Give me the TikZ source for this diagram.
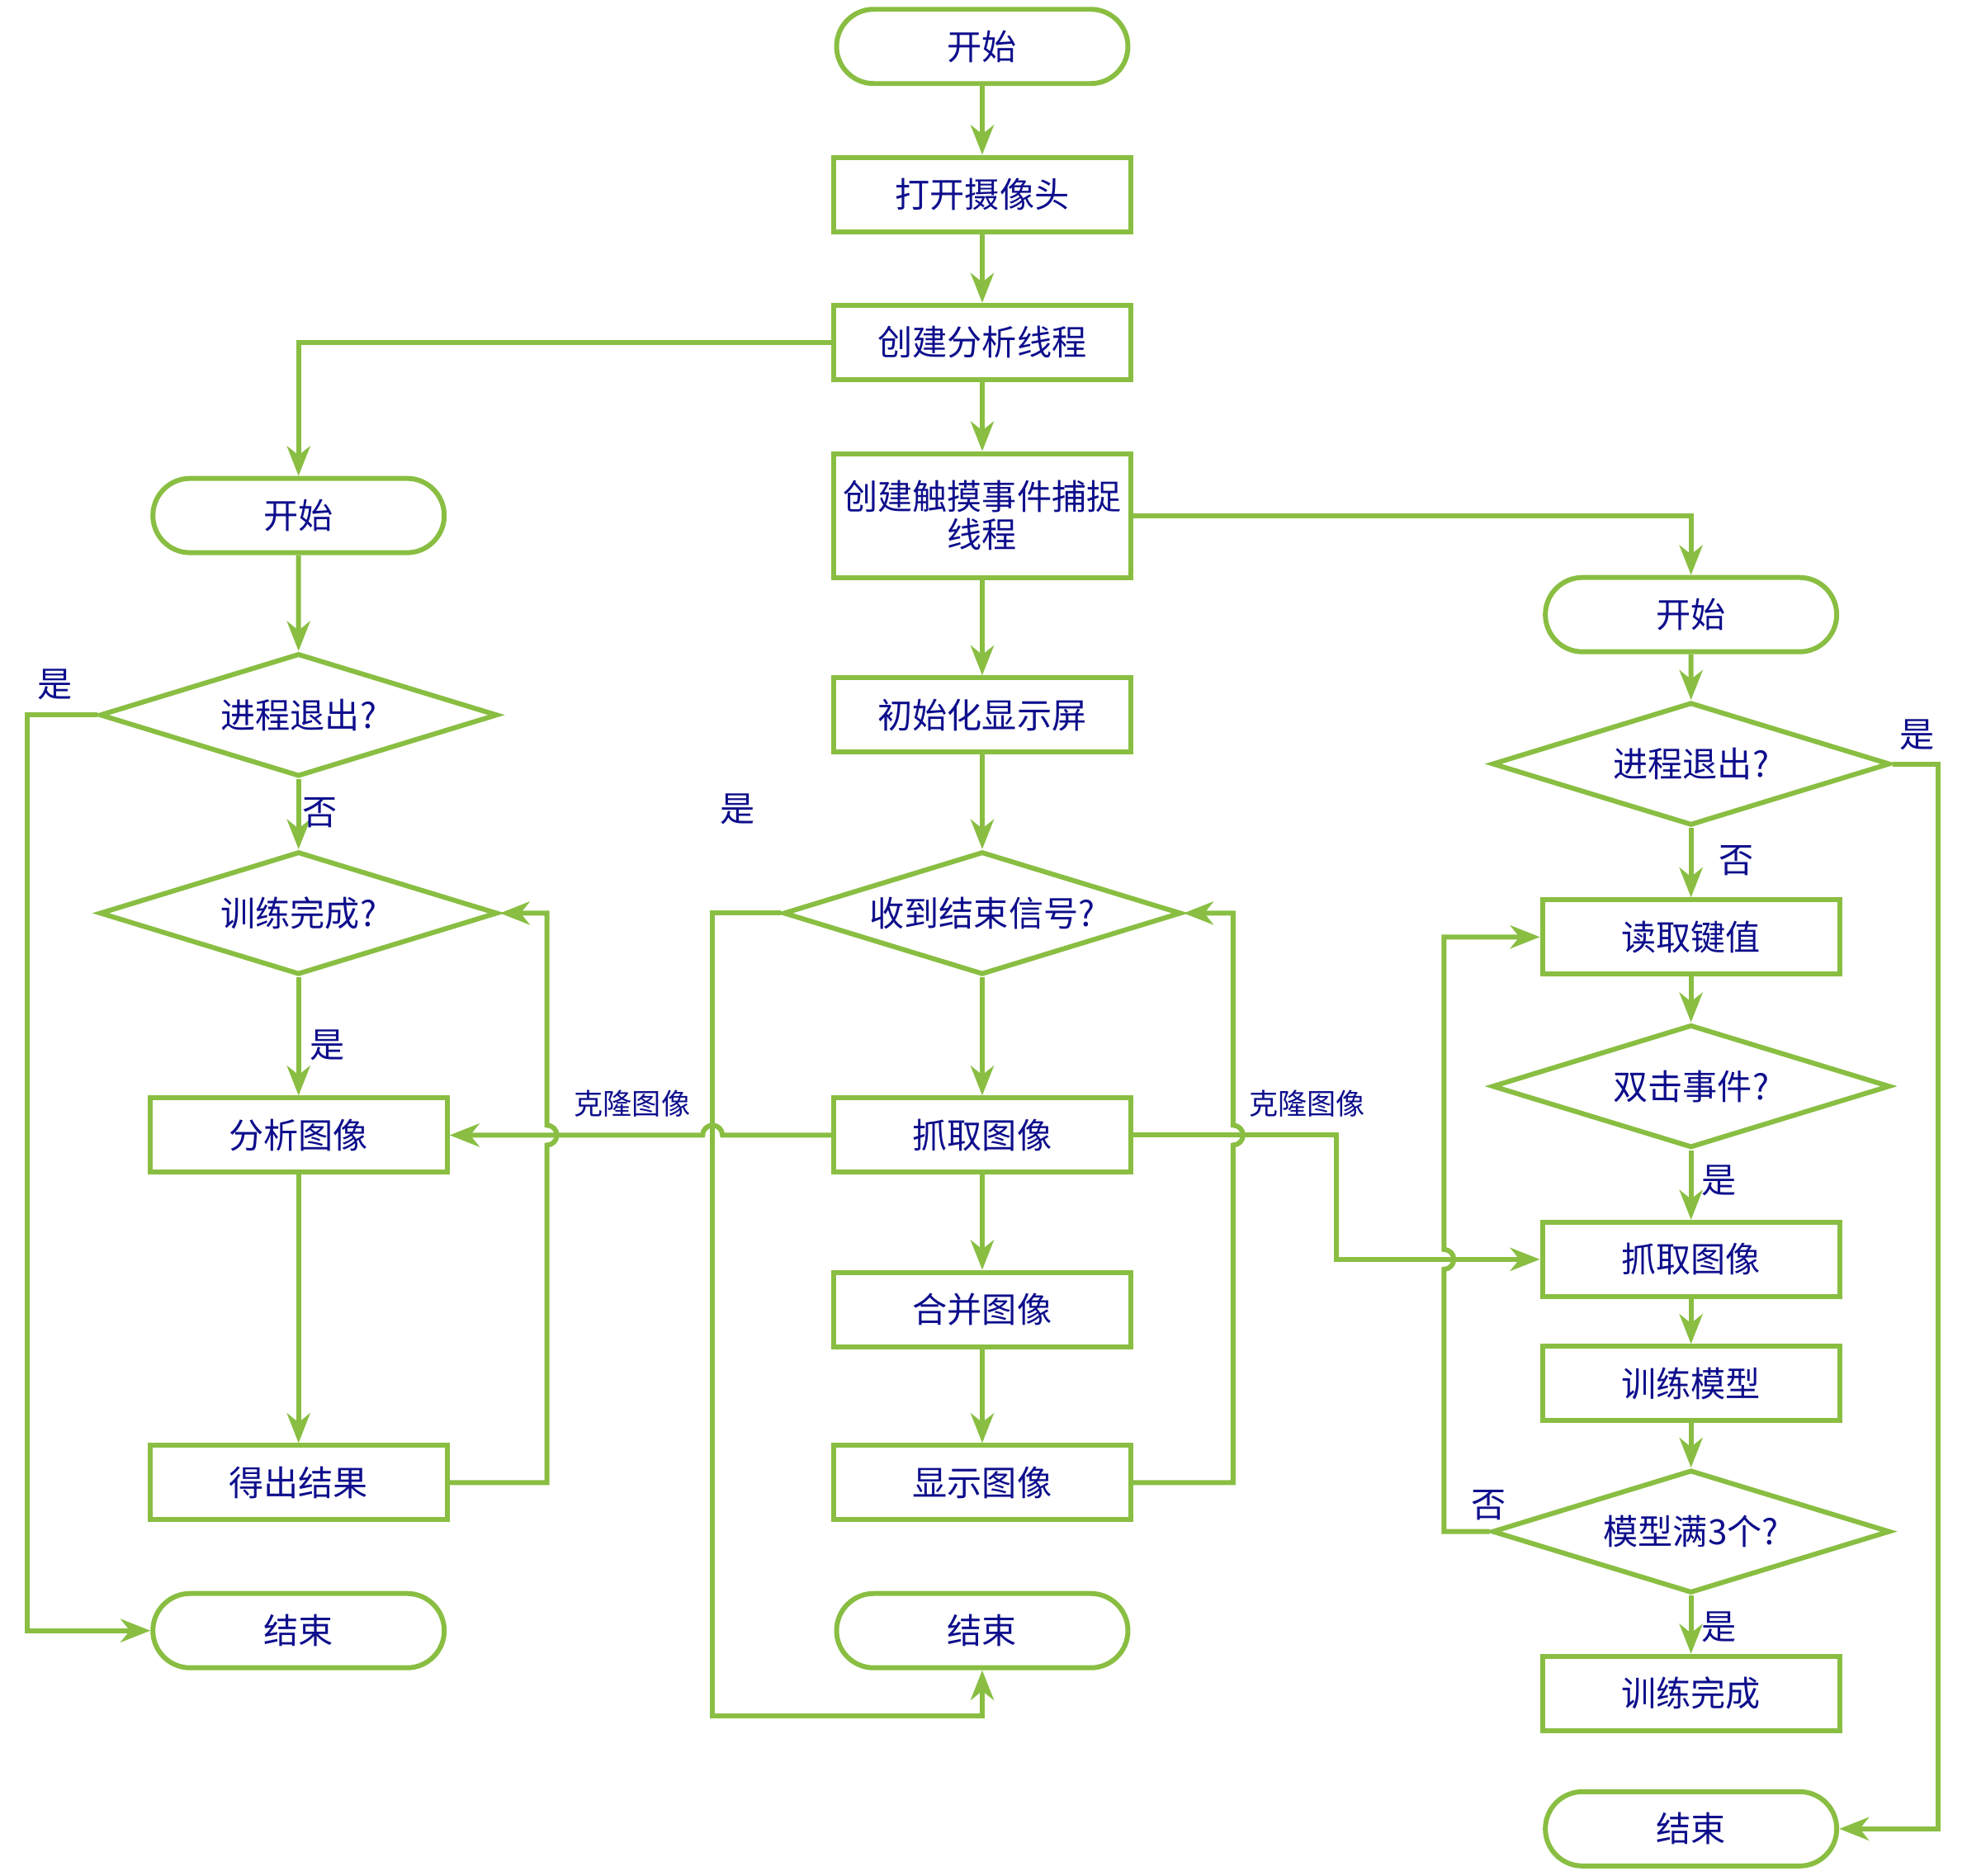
\documentclass[tikz,border=0pt]{standalone}
\usepackage{fontspec}
\setmainfont{Noto Sans CJK SC}
\usetikzlibrary{shapes.geometric}
\usetikzlibrary{shapes.misc}
\usetikzlibrary{arrows.meta}
\definecolor[named]{FlowGreen}{RGB}{137,190,66}
\definecolor[named]{FlowInk}{RGB}{14,14,140}
\newcommand{\nodefont}{\fontsize{12}{13}\selectfont}
\newcommand{\jr}{1.2mm}
\tikzset{
  box/.style={draw=FlowGreen,line width=1.7pt,text=FlowInk,font=\nodefont,
    minimum width=3.6cm,minimum height=0.9cm,inner sep=1pt,align=center},
  term/.style={box,rounded rectangle},
  proc/.style={box,rectangle},
  decide/.style={box,diamond,aspect=3.23,minimum width=4.82cm,minimum height=1.49cm,inner sep=0pt},
  flow/.style={draw=FlowGreen,line width=1.7pt,
    -{Stealth[length=3.6mm,width=2.8mm,inset=1.1mm]}},
  lbl/.style={text=FlowInk,font=\nodefont,inner sep=0pt},
  clonelbl/.style={text=FlowInk,font=\fontsize{10}{12}\selectfont,inner sep=0pt}
}

\begin{document}
\begin{tikzpicture}[x=0.0152cm,y=-0.0152cm]
    \useasboundingbox (0,0) rectangle (1568,1495);

    % Coordinates
    \path (568,905) coordinate (jumpM)
      (436,905) coordinate (jumpL)
      (983,905) coordinate (jumpR)
      (1151,1004) coordinate (jumpK)
      (568,1368) coordinate (mdown)
      (1065,1004) coordinate (cbend)
      (22,900) coordinate (lside)
      (1545,1000) coordinate (rside)
      ;

    % Main thread
    \node[term] (start) at (783,37) {开始};
    \node[proc] (cam) at (783,155) {打开摄像头};
    \node[proc] (mkana) at (783,273) {创建分析线程};
    \node[proc,minimum height=1.5cm] (mktouch) at (783,411) {创建触摸事件捕捉\\线程};
    \node[proc] (initdisp) at (783,570) {初始化显示屏};
    \node[decide] (recv) at (783,728) {收到结束信号?};
    \node[proc] (grab) at (783,905) {抓取图像};
    \node[proc] (merge) at (783,1044) {合并图像};
    \node[proc] (show) at (783,1182) {显示图像};
    \node[term] (stop) at (783,1300) {结束};

    % Analysis thread
    \node[term] (lstart) at (238,411) {开始};
    \node[decide] (lquit) at (238,570) {进程退出?};
    \node[decide] (ldone) at (238,728) {训练完成?};
    \node[proc] (analyze) at (238,905) {分析图像};
    \node[proc] (result) at (238,1182) {得出结果};
    \node[term] (lstop) at (238,1300) {结束};

    % Touch thread
    \node[term] (rstart) at (1348,490) {开始};
    \node[decide] (rquit) at (1348,609) {进程退出?};
    \node[proc] (readkey) at (1348,747) {读取键值};
    \node[decide] (dblclick) at (1348,866) {双击事件?};
    \node[proc] (rgrab) at (1348,1004) {抓取图像};
    \node[proc] (train) at (1348,1103) {训练模型};
    \node[decide] (full3) at (1348,1221) {模型满3个?};
    \node[proc] (trained) at (1348,1350) {训练完成};
    \node[term] (rstop) at (1348,1458) {结束};

    % Straight arrows
    \draw[flow] (start) -- (cam);
    \draw[flow] (cam) -- (mkana);
    \draw[flow] (mkana) -- (mktouch);
    \draw[flow] (mktouch) -- (initdisp);
    \draw[flow] (initdisp) -- (recv);
    \draw[flow] (recv) -- (grab);
    \draw[flow] (grab) -- (merge);
    \draw[flow] (merge) -- (show);
    \draw[flow] (lstart) -- (lquit);
    \draw[flow] (lquit) -- (ldone);
    \draw[flow] (ldone) -- (analyze);
    \draw[flow] (analyze) -- (result);
    \draw[flow] (rstart) -- (rquit);
    \draw[flow] (rquit) -- (readkey);
    \draw[flow] (readkey) -- (dblclick);
    \draw[flow] (dblclick) -- (rgrab);
    \draw[flow] (rgrab) -- (train);
    \draw[flow] (train) -- (full3);
    \draw[flow] (full3) -- (trained);

    % Thread creation
    \draw[flow] (mkana.west) -| (lstart.north);
    \draw[flow] (mktouch.east) -| (rstart.north);

    % Loops
    \draw[flow] (recv.west) -| (mdown) -| (stop.south);
    \draw[flow] (show.east) -| ([yshift=-\jr]jumpR)
      arc[start angle=-90,end angle=90,radius=\jr] |- (recv.east);
    \draw[flow] (result.east) -| ([yshift=-\jr]jumpL)
      arc[start angle=-90,end angle=90,radius=\jr] |- (ldone.east);
    \draw[flow] (lquit.west) -| (lside) |- (lstop.west);
    \draw[flow] (rquit.east) -| (rside) |- (rstop.east);
    \draw[flow] (full3.west) -| ([yshift=-\jr]jumpK)
      arc[start angle=-90,end angle=90,radius=\jr] |- (readkey.west);

    % Image copies
    \draw[flow] (grab.west) -- ([xshift=\jr]jumpM)
      arc[start angle=0,end angle=180,radius=\jr] -- (analyze.east);
    \draw[flow] (grab.east) -| (cbend) -- (rgrab.west);

    % Labels
    \node[lbl] (yes1) at (44,546) {是};
    \node[lbl] (no1) at (255,648) {否};
    \node[lbl] (yes2) at (261,833) {是};
    \node[lbl] (yes3) at (588,645) {是};
    \node[lbl] (yes4) at (1528,586) {是};
    \node[lbl] (no2) at (1384,686) {否};
    \node[lbl] (yes5) at (1370,941) {是};
    \node[lbl] (no3) at (1187,1200) {否};
    \node[lbl] (yes6) at (1370,1297) {是};
    \node[clonelbl] (clone1) at (504,880) {克隆图像};
    \node[clonelbl] (clone2) at (1042,880) {克隆图像};

\end{tikzpicture}
\end{document}
